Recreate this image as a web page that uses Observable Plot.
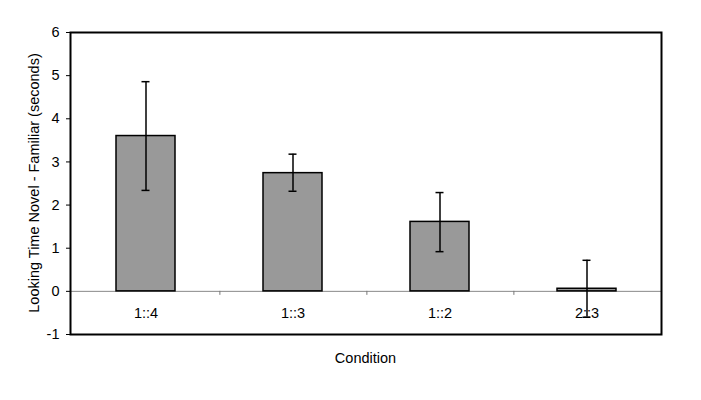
<!DOCTYPE html>
<html>
<head>
<meta charset="utf-8">
<script src="https://cdn.jsdelivr.net/npm/d3@7"></script>
<script src="https://cdn.jsdelivr.net/npm/@observablehq/plot@0.6"></script>
<style>
  body { margin: 0; background: #fff; }
  svg { font-family: "Liberation Sans", Arial, sans-serif; }
</style>
</head>
<body>
<div id="chart"></div>
<script>
const categories = ["1::4", "1::3", "1::2", "2::3"];
const means = [3.60, 2.74, 1.61, 0.06];
const errLow = [2.34, 2.32, 0.92, -0.60];
const errHigh = [4.86, 3.18, 2.29, 0.72];
const yTicks = [-1, 0, 1, 2, 3, 4, 5, 6];

const data = categories.map((c, i) => ({cond: c, mean: means[i], lo: errLow[i], hi: errHigh[i]}));

const W = 701, H = 400;
const mL = 70, mR = 40, mT = 32, mB = 66;
const FS = 14.5;
const halfStep = (W - mL - mR) / categories.length / 2;

const chart = Plot.plot({
  width: W,
  height: H,
  marginLeft: mL,
  marginRight: mR,
  marginTop: mT,
  marginBottom: mB,
  style: {fontFamily: "Liberation Sans, Arial, sans-serif", fontSize: FS + "px", color: "#000", background: "#fff"},
  x: {domain: categories, paddingInner: 0.6, paddingOuter: 0.3, axis: null},
  y: {domain: [-1, 6], label: null, axis: null},
  marks: [
    Plot.axisY({ticks: yTicks, tickSize: 4, tickPadding: 7, fontSize: FS, label: null, stroke: "#000", tickFormat: d => String(d)}),
    Plot.ruleY([0], {stroke: "#888", strokeWidth: 1}),
    Plot.ruleX(categories.slice(0, -1), {x: d => d, y1: 0, y2: 0, dx: halfStep, insetBottom: -4, stroke: "#777", strokeWidth: 1}),
    Plot.barY(data, {x: "cond", y1: 0, y2: "mean", fill: "#999999", stroke: "#000", strokeWidth: 1.5}),
    Plot.text(data, {x: "cond", y: () => 0, text: "cond", dy: 22, fontSize: FS, fill: "#000"}),
    Plot.ruleX(data, {x: "cond", y1: "lo", y2: "hi", stroke: "#000", strokeWidth: 1.5}),
    Plot.tickY(data, {x: "cond", y: "hi", stroke: "#000", strokeWidth: 1.5, inset: 25.5}),
    Plot.tickY(data, {x: "cond", y: "lo", stroke: "#000", strokeWidth: 1.5, inset: 25.5}),
    Plot.frame({stroke: "#000", strokeWidth: 2})
  ]
});

const svg = d3.select(chart);
svg.append("text")
  .attr("transform", `translate(39, ${(mT + H - mB) / 2}) rotate(-90)`)
  .attr("text-anchor", "middle")
  .attr("font-size", FS)
  .attr("fill", "#000")
  .text("Looking Time Novel - Familiar (seconds)");
svg.append("text")
  .attr("x", (mL + W - mR) / 2)
  .attr("y", 363)
  .attr("text-anchor", "middle")
  .attr("font-size", FS)
  .attr("fill", "#000")
  .text("Condition");

document.getElementById("chart").appendChild(chart);
</script>
</body>
</html>
